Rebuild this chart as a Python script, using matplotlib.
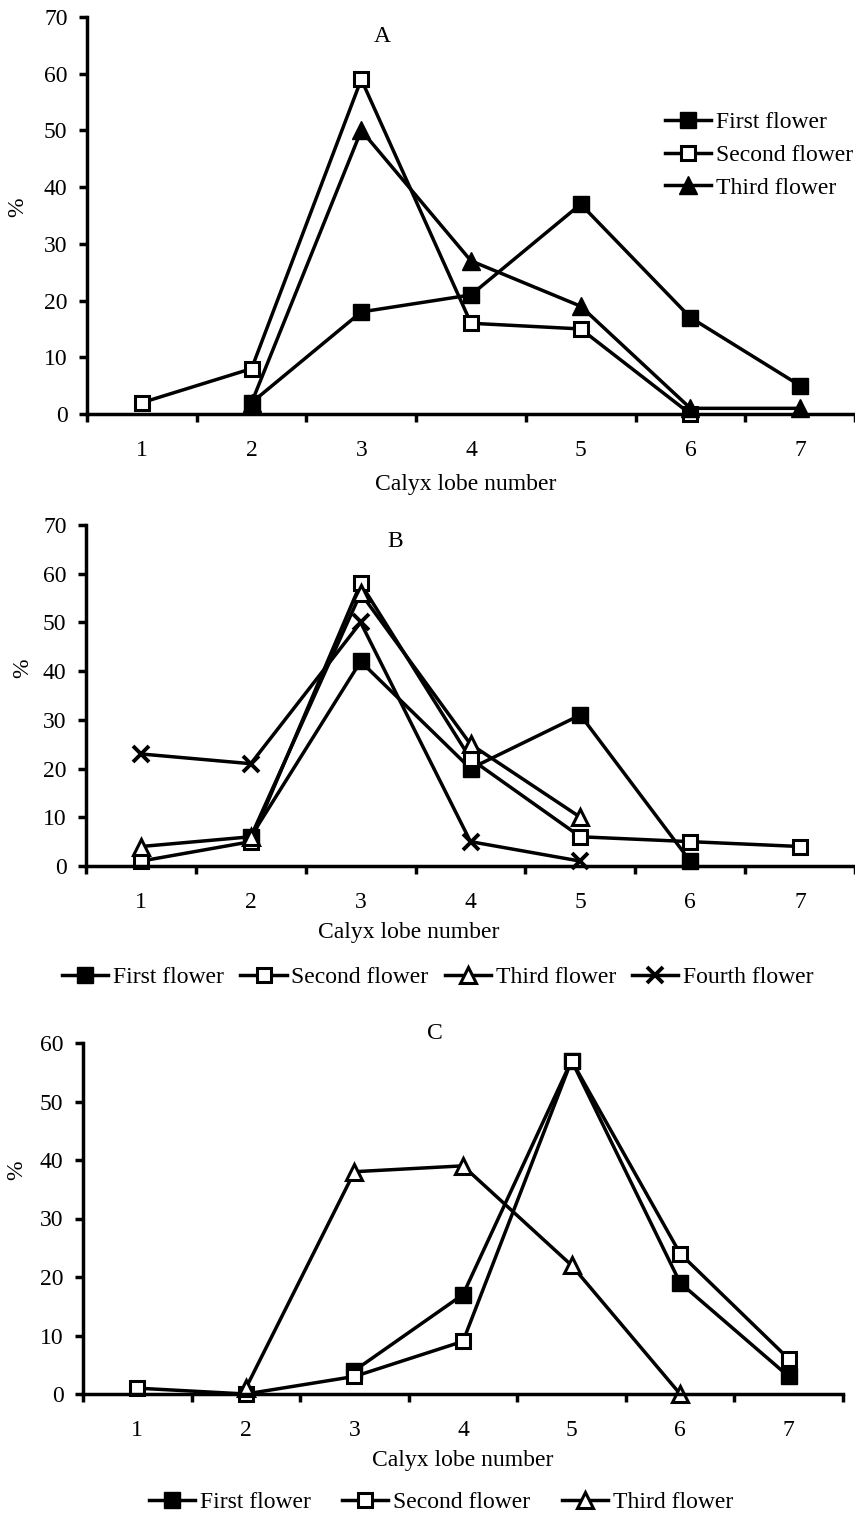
import numpy as np
import matplotlib
matplotlib.use('Agg')
import matplotlib.pyplot as plt

plt.rcParams['font.family'] = ['Liberation Serif', 'DejaVu Serif']
plt.rcParams['font.size'] = 17

lobes = [1, 2, 3, 4, 5, 6, 7]

# panel A
a_first = [np.nan, 2, 18, 21, 37, 17, 5]
a_second = [2, 8, 59, 16, 15, 0, np.nan]
a_third = [np.nan, 2, 50, 27, 19, 1, 1]

# panel B
b_first = [np.nan, 6, 42, 20, 31, 1, np.nan]
b_second = [1, 5, 58, 22, 6, 5, 4]
b_third = [4, 6, 56, 25, 10, np.nan, np.nan]
b_fourth = [23, 21, 50, 5, 1, np.nan, np.nan]

# panel C
c_first = [np.nan, np.nan, 4, 17, 57, 19, 3]
c_second = [1, 0, 3, 9, 57, 24, 6]
c_third = [np.nan, 1, 38, 39, 22, 0, np.nan]

W, H = 855, 1515
fig = plt.figure(figsize=(W / 100, H / 100), dpi=100)

def px_axes(left, top, right, bottom):
    return fig.add_axes([left / W, 1 - bottom / H, (right - left) / W, (bottom - top) / H])

lw = 2.5
ms = 11.5
sty_fill_sq = dict(color='black', lw=lw, marker='s', ms=ms, mfc='black', mec='black')
sty_open_sq = dict(color='black', lw=lw, marker='s', ms=ms - 1, mfc='white', mec='black', mew=2.2)
sty_fill_tri = dict(color='black', lw=lw, marker='^', ms=ms + 1, mfc='black', mec='black')
sty_open_tri = dict(color='black', lw=lw, marker='^', ms=ms, mfc='white', mec='black', mew=2.2)
sty_x = dict(color='black', lw=lw, marker='x', ms=ms, mew=2.8)

def style(ax, ymax, xmax):
    ax.set_xlim(0.5, xmax)
    ax.set_ylim(0, ymax)
    ax.spines['top'].set_visible(False)
    ax.spines['right'].set_visible(False)
    ax.spines['left'].set_linewidth(2.5)
    ax.spines['bottom'].set_linewidth(2.5)
    ax.set_xticks(lobes)
    ax.set_xticks(np.arange(0.5, 8, 1), minor=True)
    ax.tick_params(axis='x', which='major', length=0, pad=19)
    ax.tick_params(axis='x', which='minor', length=6, width=2.5, direction='out')
    ax.set_yticks(np.arange(0, ymax + 1, 10))
    ax.tick_params(axis='y', length=6, width=2.5, pad=8)
    ax.set_xlabel('Calyx lobe number')
    ax.set_ylabel('%')
    for line in ax.lines:
        line.set_clip_on(False)

# A
axA = px_axes(87, 17, 855, 414)
axA.plot(lobes, a_first, label='First flower', **sty_fill_sq)
axA.plot(lobes, a_second, label='Second flower', **sty_open_sq)
axA.plot(lobes, a_third, label='Third flower', **sty_fill_tri)
style(axA, 70, 7.45)
axA.xaxis.set_label_coords(0.4935, -0.151)
axA.yaxis.set_label_coords(-0.077, 0.521)
axA.text(0.384, 0.95, 'A', transform=axA.transAxes, ha='center', va='center')
axA.legend(loc='upper left', bbox_to_anchor=(0.7526, 0.762), frameon=False,
           borderpad=0, borderaxespad=0, handlelength=1.95, handletextpad=0.2,
           labelspacing=0.48)

# B
axB = px_axes(86, 525, 855, 866)
axB.plot(lobes, b_first, label='First flower', **sty_fill_sq)
axB.plot(lobes, b_second, label='Second flower', **sty_open_sq)
axB.plot(lobes, b_third, label='Third flower', **sty_open_tri)
axB.plot(lobes, b_fourth, label='Fourth flower', **sty_x)
style(axB, 70, 7.45)
axB.xaxis.set_label_coords(0.419, -0.164)
axB.yaxis.set_label_coords(-0.068, 0.58)
axB.text(0.402, 0.953, 'B', transform=axB.transAxes, ha='center', va='center')
fig.legend(handles=axB.lines, loc='center', bbox_to_anchor=(0.5123, 1 - 977 / H),
           ncol=4, frameon=False, borderpad=0, handlelength=1.95, handletextpad=0.2,
           columnspacing=0.7)

# C
axC = px_axes(83, 1043, 843, 1394)
axC.plot(lobes, c_first, label='First flower', **sty_fill_sq)
axC.plot(lobes, c_second, label='Second flower', **sty_open_sq)
axC.plot(lobes, c_third, label='Third flower', **sty_open_tri)
style(axC, 60, 7.5)
axC.xaxis.set_label_coords(0.499, -0.160)
axC.yaxis.set_label_coords(-0.074, 0.638)
axC.text(0.463, 1.028, 'C', transform=axC.transAxes, ha='center', va='center')
fig.legend(handles=axC.lines, loc='center', bbox_to_anchor=(0.5158, 1 - 1502 / H),
           ncol=3, frameon=False, borderpad=0, handlelength=1.95, handletextpad=0.2,
           columnspacing=1.35)

fig.savefig('out.png', dpi=100)
